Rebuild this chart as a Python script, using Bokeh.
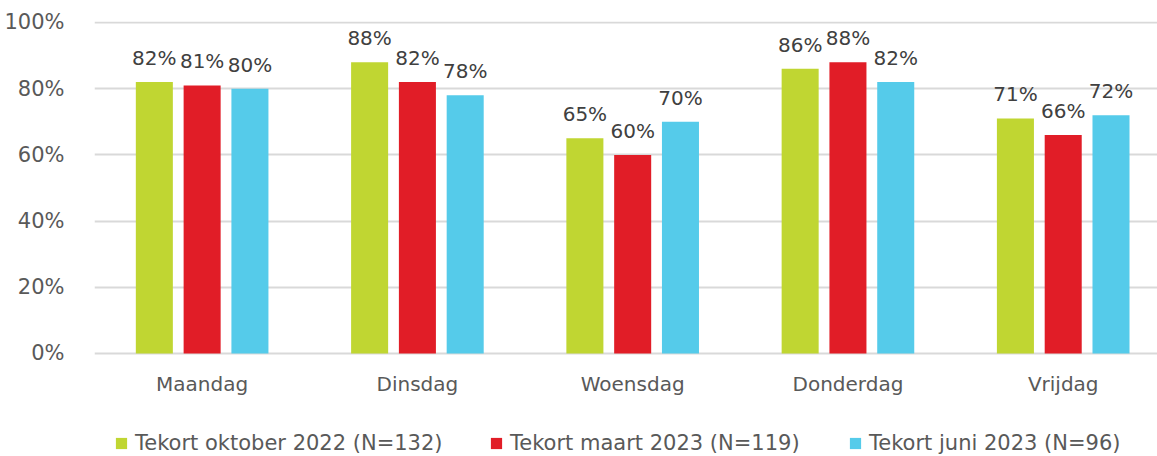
from bokeh.plotting import figure
from bokeh.models import (ColumnDataSource, Range1d, FixedTicker, NumeralTickFormatter,
                          Legend, LegendItem)
from bokeh.transform import dodge
from bokeh.core.properties import value
from bokeh.embed import file_html
from bokeh.resources import INLINE

days = ["Maandag", "Dinsdag", "Woensdag", "Donderdag", "Vrijdag"]
series_names = ["Tekort oktober 2022 (N=132)", "Tekort maart 2023 (N=119)", "Tekort juni 2023 (N=96)"]
oktober_2022 = [0.82, 0.88, 0.65, 0.86, 0.71]
maart_2023 = [0.81, 0.82, 0.60, 0.88, 0.66]
juni_2023 = [0.80, 0.78, 0.70, 0.82, 0.72]
colors = ["#C0D632", "#E11D27", "#55CBEA"]

FONT = "DejaVu Sans"
AXIS_TEXT = "#595959"
LABEL_TEXT = "#404040"

xidx = list(range(len(days)))
src = ColumnDataSource(dict(
    x=xidx,
    s0=oktober_2022, s1=maart_2023, s2=juni_2023,
    l0=[f"{v*100:.0f}%" for v in oktober_2022],
    l1=[f"{v*100:.0f}%" for v in maart_2023],
    l2=[f"{v*100:.0f}%" for v in juni_2023],
))

# frame spans from y=21 to the canvas bottom (456); value 0 sits at y=353
p = figure(width=1157, height=456, output_backend="svg", toolbar_location=None,
           x_range=Range1d(-0.5, 4.438), y_range=Range1d(-0.3112, 1.003),
           min_border_left=94, min_border_right=0, min_border_top=21, min_border_bottom=0)
p.outline_line_color = None
p.background_fill_color = "white"

offsets = [-0.222, 0.0, 0.222]
renderers = []
for i in range(3):
    r = p.vbar(x=dodge("x", offsets[i]), top=f"s{i}", bottom=0, width=0.172, source=src,
               fill_color=colors[i], line_color=None)
    renderers.append(r)
    p.text(x=dodge("x", offsets[i]), y=f"s{i}", text=f"l{i}", source=src,
           text_align="center", text_baseline="alphabetic", y_offset=-24,
           text_font=value(FONT), text_font_size="20px", text_color=LABEL_TEXT)

# axes
p.xaxis.fixed_location = 0
p.xaxis.ticker = FixedTicker(ticks=xidx)
p.xaxis.major_label_overrides = {i: d for i, d in enumerate(days)}
p.xaxis.axis_line_color = None
p.xaxis.major_tick_line_color = None
p.xaxis.minor_tick_line_color = None
p.xaxis.major_label_standoff = 13
p.xaxis.major_label_text_font = FONT
p.xaxis.major_label_text_font_size = "20px"
p.xaxis.major_label_text_color = AXIS_TEXT

p.yaxis.ticker = FixedTicker(ticks=[0, 0.2, 0.4, 0.6, 0.8, 1.0])
p.yaxis.formatter = NumeralTickFormatter(format="0%")
p.yaxis.axis_line_color = None
p.yaxis.major_tick_line_color = None
p.yaxis.minor_tick_line_color = None
p.yaxis.major_label_standoff = 24
p.yaxis.major_label_text_font = FONT
p.yaxis.major_label_text_font_size = "21px"
p.yaxis.major_label_text_color = AXIS_TEXT

p.xgrid.grid_line_color = None
p.ygrid.grid_line_color = "#D9D9D9"
p.ygrid.grid_line_width = 2

# one legend per series so each entry sits where the reference puts it
legend_x = [20, 395, 754]
for i in range(3):
    lg = Legend(items=[LegendItem(label=series_names[i], renderers=[renderers[i]])],
                orientation="horizontal", location=(legend_x[i], 1),
                glyph_width=14, glyph_height=14, label_standoff=7,
                label_text_font=FONT, label_text_font_size="21px", label_text_color=AXIS_TEXT,
                border_line_color=None, background_fill_alpha=0, padding=0, margin=0)
    p.add_layout(lg, "center")

open("out.html", "w").write(file_html(p, INLINE))
